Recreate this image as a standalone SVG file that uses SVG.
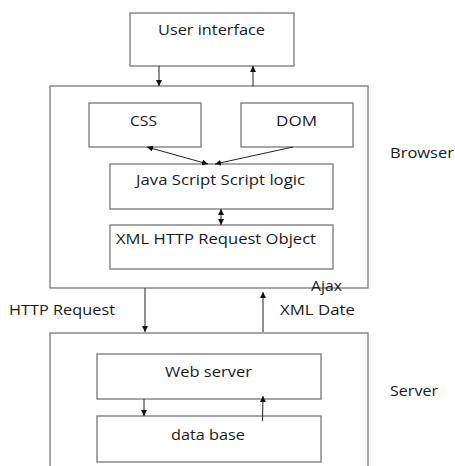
<svg xmlns="http://www.w3.org/2000/svg" width="455" height="466" viewBox="0 0 455 466">
<defs>
<marker id="ah" viewBox="0 0 10 10" refX="10" refY="5" markerWidth="6" markerHeight="6" markerUnits="userSpaceOnUse" orient="auto-start-reverse">
<path d="M0,0 L10,5 L0,10 z" fill="#111"/>
</marker>
</defs>
<style>
.box{fill:#fff;stroke:#777;stroke-width:1.3}
.t{font-family:"Open Sans","Liberation Sans",sans-serif;font-size:15px;fill:#1a1a1a}
.c{stroke:#222;stroke-width:1;fill:none}
</style>
<rect width="455" height="466" fill="#fff"/>
<g id="browser"><rect class="box" x="50" y="86" width="318" height="202"/><text class="t" x="390" y="158" textLength="64" lengthAdjust="spacingAndGlyphs">Browser</text></g>
<g id="server"><rect class="box" x="50" y="333" width="318" height="140"/><text class="t" x="390" y="396" textLength="48" lengthAdjust="spacingAndGlyphs">Server</text></g>
<g id="ui"><rect class="box" x="130" y="13" width="164" height="53"/><text class="t" x="158" y="35" textLength="107" lengthAdjust="spacingAndGlyphs">User interface</text></g>
<g id="css"><rect class="box" x="89" y="103" width="112" height="44"/><text class="t" x="130" y="126" textLength="27" lengthAdjust="spacingAndGlyphs">CSS</text></g>
<g id="dom"><rect class="box" x="241" y="103" width="112" height="44"/><text class="t" x="276" y="126" textLength="41" lengthAdjust="spacingAndGlyphs">DOM</text></g>
<g id="js"><rect class="box" x="110" y="164" width="223" height="45"/><text class="t" x="136" y="185" textLength="169" lengthAdjust="spacingAndGlyphs">Java Script Script logic</text></g>
<g id="xhr"><rect class="box" x="110" y="225" width="223" height="44"/><text class="t" x="116" y="244" textLength="200" lengthAdjust="spacingAndGlyphs">XML HTTP Request Object</text></g>
<g id="web"><rect class="box" x="97" y="354" width="224" height="45"/><text class="t" x="165" y="377" textLength="87" lengthAdjust="spacingAndGlyphs">Web server</text></g>
<g id="db"><rect class="box" x="97" y="416" width="224" height="46"/><text class="t" x="171" y="440" textLength="74" lengthAdjust="spacingAndGlyphs">data base</text></g>
<g id="labels">
<text class="t" x="311" y="291" textLength="31" lengthAdjust="spacingAndGlyphs">Ajax</text>
<text class="t" x="280" y="315" textLength="75" lengthAdjust="spacingAndGlyphs">XML Date</text>
<text class="t" x="9" y="315" textLength="106" lengthAdjust="spacingAndGlyphs">HTTP Request</text>
</g>
<g id="connectors">
<line class="c" x1="159" y1="66" x2="159" y2="86" marker-end="url(#ah)"/>
<line class="c" x1="253" y1="86" x2="253" y2="66" marker-end="url(#ah)"/>
<line class="c" x1="208" y1="164" x2="147" y2="147" marker-start="url(#ah)" marker-end="url(#ah)"/>
<line class="c" x1="293" y1="147" x2="215" y2="164" marker-end="url(#ah)"/>
<line class="c" x1="221" y1="209" x2="221" y2="225" marker-start="url(#ah)" marker-end="url(#ah)"/>
<line class="c" x1="145" y1="288" x2="145" y2="332" marker-end="url(#ah)"/>
<line class="c" x1="263" y1="332" x2="263" y2="292" marker-end="url(#ah)"/>
<line class="c" x1="144" y1="399" x2="144" y2="416" marker-end="url(#ah)"/>
<line class="c" x1="262.5" y1="421" x2="263" y2="396" marker-end="url(#ah)"/>
</g>
</svg>
